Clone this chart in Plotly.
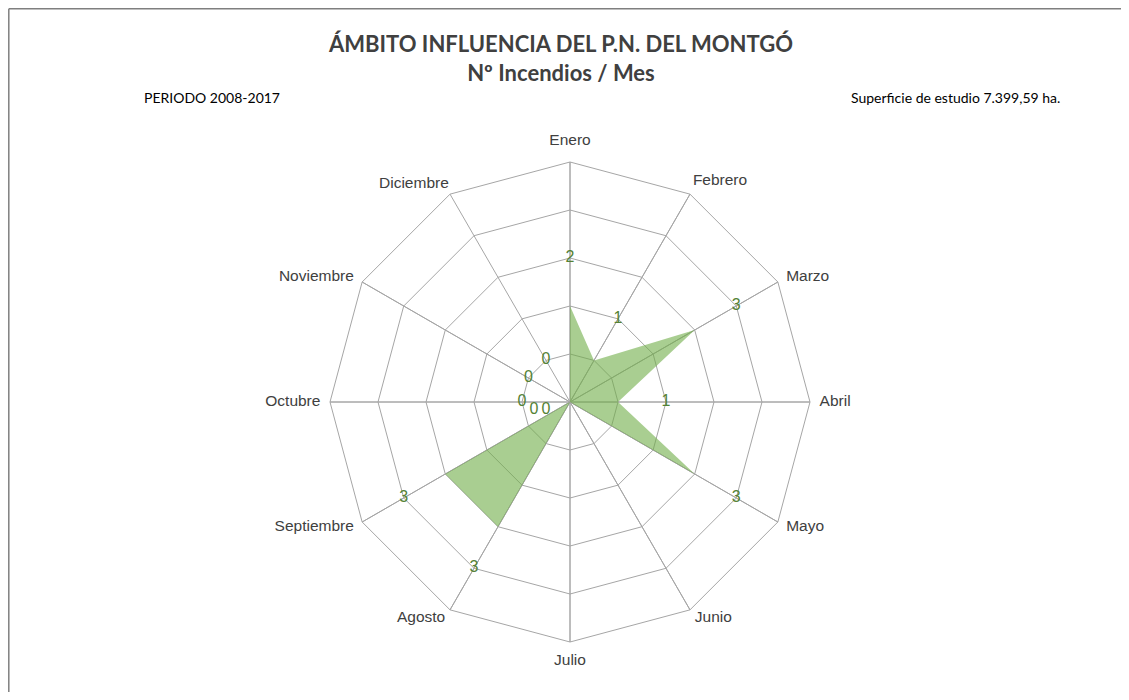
import plotly.graph_objects as go

months = ["Enero", "Febrero", "Marzo", "Abril", "Mayo", "Junio", "Julio",
          "Agosto", "Septiembre", "Octubre", "Noviembre", "Diciembre"]
incendios = [2, 1, 3, 1, 3, 0, 0, 3, 3, 0, 0, 0]
ring_values = [1, 2, 3, 4, 5]

title_text = "<b>ÁMBITO INFLUENCIA DEL P.N. DEL MONTGÓ</b><br><b>Nº Incendios / Mes</b>"
periodo_text = "PERIODO 2008-2017"
superficie_text = "Superficie de estudio 7.399,59 ha."

# page body has an 8px margin in the browser (on every side)
OFF = 8
W, H = 1129 - 2 * OFF, 700 - 2 * OFF
RMAX = 5
RANGE = 5.5
cx, cy = 570 - OFF, 402 - OFF
R = 240 * RANGE / RMAX  # pixel radius of the full radial range
grid = "#a6a6a6"

fig = go.Figure()

# spokes (one per month, centre to outer ring)
sp_r, sp_t = [], []
for m in months:
    sp_r += [0, RMAX]
    sp_t += [m, m]
fig.add_trace(go.Scatterpolar(
    r=sp_r, theta=sp_t, mode="lines", line=dict(color=grid, width=1),
    hoverinfo="skip", showlegend=False))

fig.add_trace(go.Scatterpolar(
    r=incendios, theta=months, mode="lines", fill="toself",
    fillcolor="rgba(112,173,71,0.6)", line=dict(width=0, color="rgba(112,173,71,0)"),
    hoverinfo="skip", showlegend=False))

# data labels: one ring outward; the Junio/Julio zero labels sit near the centre
label_r = [v + 1 for v in incendios]
label_theta = list(months)
label_pos = ["middle center"] * len(months)
for i, m in enumerate(months):
    if m in ("Junio", "Julio"):
        label_theta[i] = "Octubre"
        label_r[i] = 0.75 if m == "Junio" else 0.5
        label_pos[i] = "bottom center"

fig.add_trace(go.Scatterpolar(
    r=label_r, theta=label_theta, mode="text",
    text=[str(v) for v in incendios], textposition=label_pos,
    textfont=dict(family="Liberation Sans, Arial", size=16, color="#548235"),
    hoverinfo="skip", showlegend=False))

# category labels around the outer ring (placed like the original chart)
cat_r_off = [0.44, 0.12, 0.2, 0.2, 0.2, 0.2, 0.4, 0.2, 0.2, 0.2, 0.2, 0.05]
cat_pos = ["middle center", "top right", "middle right", "middle right", "middle right",
           "middle right", "middle center", "middle left", "middle left", "middle left",
           "middle left", "top left"]
fig.add_trace(go.Scatterpolar(
    r=[RMAX + o for o in cat_r_off], theta=months, mode="text",
    text=months, textposition=cat_pos, cliponaxis=False,
    textfont=dict(family="Liberation Sans, Arial", size=15.5, color="#404040"),
    hoverinfo="skip", showlegend=False))

border = dict(color="#7f7f7f", width=1.5)
fig.update_layout(
    width=W, height=H,
    margin=dict(l=0, r=0, t=0, b=0),
    paper_bgcolor="white", plot_bgcolor="white",
    polar=dict(
        domain=dict(x=[(cx - R) / W, (cx + R) / W],
                    y=[(H - cy - R) / H, (H - cy + R) / H]),
        bgcolor="rgba(0,0,0,0)",
        gridshape="linear",
        angularaxis=dict(
            direction="clockwise", rotation=90,
            categoryorder="array", categoryarray=months,
            showline=False, showgrid=False,
            ticks="", showticklabels=False,
        ),
        radialaxis=dict(
            range=[0, RANGE], tickvals=ring_values, showticklabels=False, ticks="",
            showline=False, showgrid=True, gridcolor=grid, gridwidth=1,
        ),
    ),
    annotations=[
        dict(text=title_text, x=(560 - OFF) / W, y=1 - (58 - OFF) / H, xref="paper", yref="paper",
             showarrow=False, xanchor="center", yanchor="middle",
             font=dict(family="Lato, Open Sans", size=22, color="#404040")),
        dict(text=periodo_text, x=(212 - OFF) / W, y=1 - (98 - OFF) / H, xref="paper", yref="paper",
             showarrow=False, xanchor="center", yanchor="middle",
             font=dict(family="Lato, Open Sans", size=14, color="#000000")),
        dict(text=superficie_text, x=(1062 - OFF) / W, y=1 - (98 - OFF) / H, xref="paper", yref="paper",
             showarrow=False, xanchor="right", yanchor="middle",
             font=dict(family="Lato, Open Sans", size=14, color="#000000")),
    ],
    shapes=[
        dict(type="line", xref="paper", yref="paper",
             x0=0.8 / W, x1=1, y0=1 - 0.8 / H, y1=1 - 0.8 / H, line=border),
        dict(type="line", xref="paper", yref="paper",
             x0=0.8 / W, x1=0.8 / W, y0=0, y1=1 - 0.8 / H, line=border),
    ],
)

fig.write_html("out.html")
